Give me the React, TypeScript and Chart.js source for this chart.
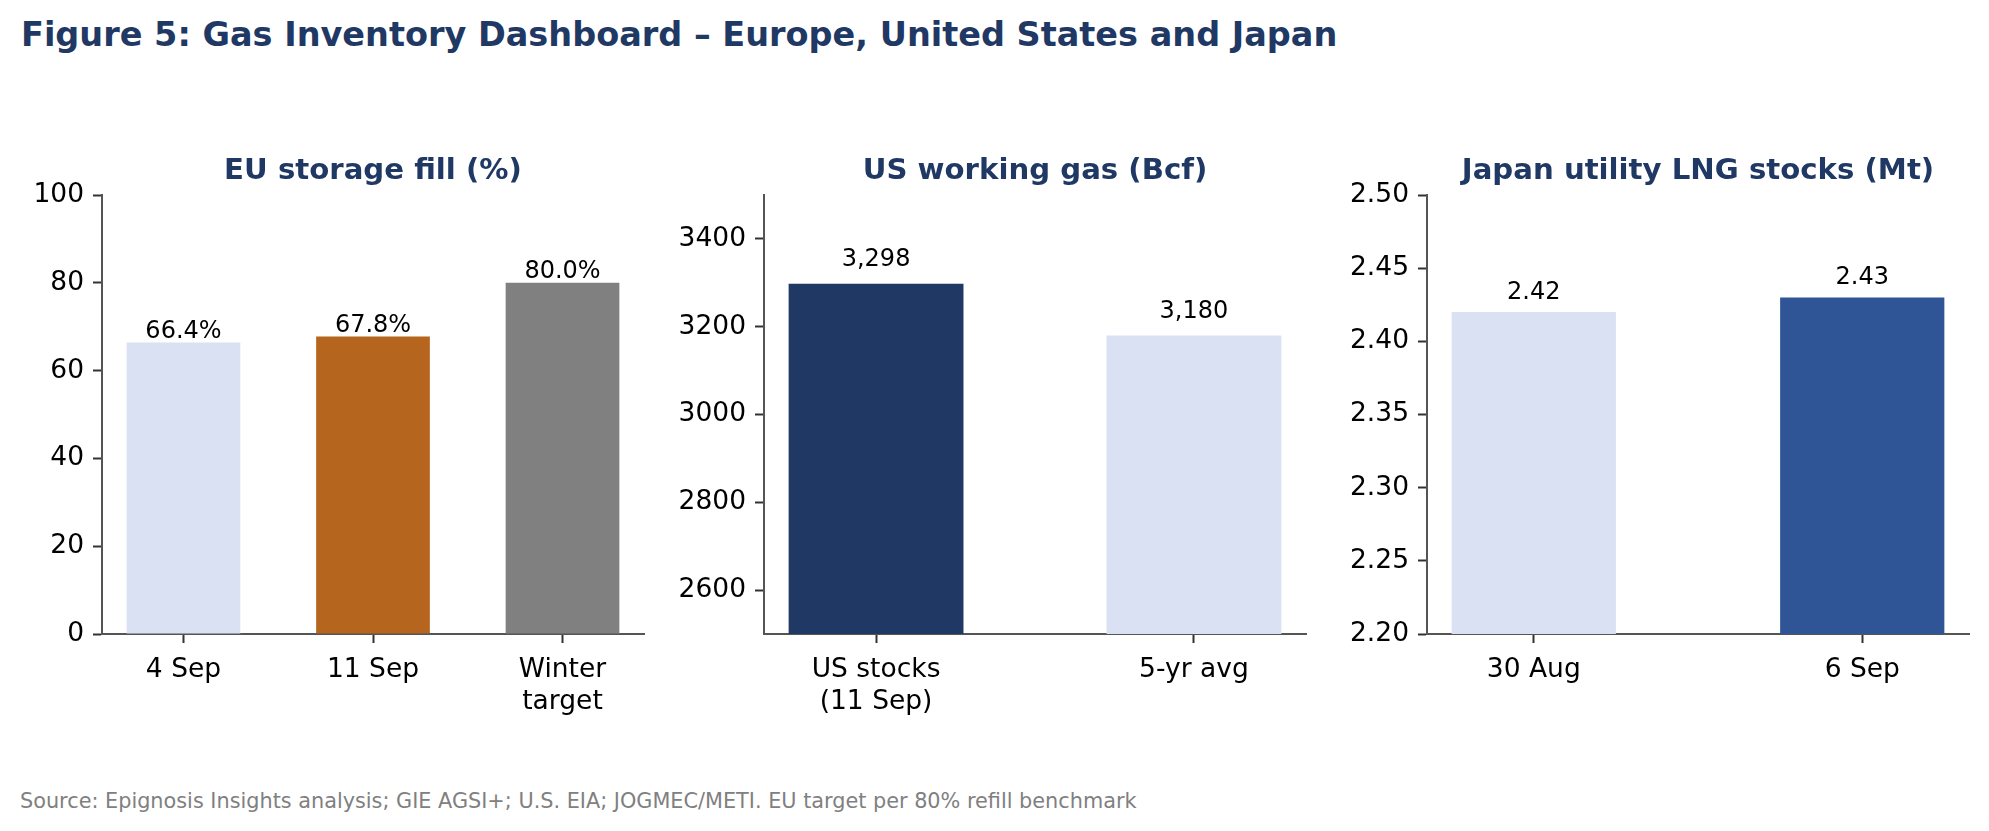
import React, { useEffect, useRef } from "react";
import Chart from "chart.js/auto";

const FONT = "'DejaVu Sans', sans-serif";

// EU storage fill (%)
const euLabels: (string | string[])[] = ["4 Sep", "11 Sep", ["Winter", "target"]];
const euValues = [66.4, 67.8, 80.0];
const euColors = ["#D9E1F2", "#B5651D", "#808080"];
const euTicks = [0, 20, 40, 60, 80, 100];

// US working gas (Bcf)
const usLabels: (string | string[])[] = [["US stocks", "(11 Sep)"], "5-yr avg"];
const usValues = [3298, 3180];
const usColors = ["#203864", "#D9E1F2"];
const usTicks = [2600, 2800, 3000, 3200, 3400];

// Japan utility LNG stocks (Mt)
const jpLabels: (string | string[])[] = ["30 Aug", "6 Sep"];
const jpValues = [2.42, 2.43];
const jpColors = ["#D9E1F2", "#2F5597"];
const jpTicks = [2.2, 2.25, 2.3, 2.35, 2.4, 2.45, 2.5];

const AXIS_W = 100;
const PLOT_W = 542;
const PAD_R = 21;
const CANVAS_TOP = 150;
const CANVAS_H = 600;
const X_AXIS_H = 116;

const barLabels = {
  id: "barLabels",
  afterDatasetsDraw(chart: any, _args: any, opts: any) {
    const { ctx } = chart;
    const meta = chart.getDatasetMeta(0);
    ctx.save();
    ctx.font = `24px ${FONT}`;
    ctx.fillStyle = "#000";
    ctx.textAlign = "center";
    ctx.textBaseline = "alphabetic";
    meta.data.forEach((bar: any, i: number) => {
      ctx.fillText(opts.texts[i], bar.x, bar.y - opts.gap);
    });
    ctx.restore();
  },
};

interface PanelProps {
  left: number;
  title: string;
  labels: (string | string[])[];
  values: number[];
  colors: string[];
  ticks: number[];
  yMin: number;
  yMax: number;
  barWidth: number;
  labelGap: number;
  fmtTick: (v: number) => string;
  fmtValue: (v: number) => string;
}

const Panel: React.FC<PanelProps> = (p) => {
  const canvasRef = useRef<HTMLCanvasElement | null>(null);

  useEffect(() => {
    const canvas = canvasRef.current;
    if (!canvas) return;
    const n = p.values.length;
    const half = p.barWidth / 2;
    const margin = 0.05 * (n - 1 + p.barWidth);
    const tickFont = { family: FONT, size: 26.5 };

    const chart = new Chart(canvas, {
      type: "bar",
      data: {
        datasets: [
          {
            data: p.values.map((v, i) => ({ x: i, y: v })),
            backgroundColor: p.colors,
            borderWidth: 0,
            categoryPercentage: 1,
            barPercentage: p.barWidth,
          },
        ],
      },
      options: {
        responsive: false,
        maintainAspectRatio: false,
        animation: false,
        layout: { padding: { left: 0, right: PAD_R, top: 0, bottom: 0 } },
        plugins: {
          legend: { display: false },
          tooltip: { enabled: false },
          title: {
            display: true,
            text: p.title,
            color: "#1F3864",
            font: { family: FONT, size: 29.2, weight: "bold" },
            padding: { top: 4, bottom: 6 },
            fullSize: false,
          },
          barLabels: { texts: p.values.map(p.fmtValue), gap: p.labelGap },
        } as any,
        scales: {
          x: {
            type: "linear",
            offset: false,
            min: -half - margin,
            max: n - 1 + half + margin,
            afterBuildTicks: (s: any) => {
              s.ticks = p.labels.map((_, i) => ({ value: i }));
            },
            afterFit: (s: any) => {
              s.height = X_AXIS_H;
            },
            ticks: {
              callback: (_v: any, i: number) => p.labels[i],
              font: tickFont,
              color: "#000",
              padding: 11,
              maxRotation: 0,
              autoSkip: false,
            },
            grid: {
              display: true,
              offset: false,
              drawOnChartArea: false,
              drawTicks: true,
              tickLength: 9,
              tickWidth: 2,
              tickColor: "#333",
            },
            border: { display: true, color: "#555", width: 2 },
          },
          y: {
            type: "linear",
            beginAtZero: false,
            min: p.yMin,
            max: p.yMax,
            afterBuildTicks: (s: any) => {
              s.ticks = p.ticks.map((v) => ({ value: v }));
            },
            afterFit: (s: any) => {
              s.width = AXIS_W;
            },
            ticks: {
              callback: (v: any) => p.fmtTick(Number(v)),
              font: tickFont,
              color: "#000",
              padding: 9,
            },
            grid: {
              display: true,
              drawOnChartArea: false,
              drawTicks: true,
              tickLength: 9,
              tickWidth: 2,
              tickColor: "#333",
            },
            border: { display: true, color: "#555", width: 2 },
          },
        },
      } as any,
      plugins: [barLabels],
    });

    return () => {
      chart.destroy();
    };
  }, [p]);

  const w = AXIS_W + PLOT_W + PAD_R;
  return (
    <canvas
      ref={canvasRef}
      width={w}
      height={CANVAS_H}
      style={{ position: "absolute", left: p.left - AXIS_W, top: CANVAS_TOP, width: w, height: CANVAS_H }}
    />
  );
};

const panels: PanelProps[] = [
  {
    left: 102,
    title: "EU storage fill (%)",
    labels: euLabels,
    values: euValues,
    colors: euColors,
    ticks: euTicks,
    yMin: 0,
    yMax: 100,
    barWidth: 0.6,
    labelGap: 4.5,
    fmtTick: (v) => String(v),
    fmtValue: (v) => v.toFixed(1) + "%",
  },
  {
    left: 764,
    title: "US working gas (Bcf)",
    labels: usLabels,
    values: usValues,
    colors: usColors,
    ticks: usTicks,
    yMin: 2500,
    yMax: 3500,
    barWidth: 0.55,
    labelGap: 17.3,
    fmtTick: (v) => String(v),
    fmtValue: (v) => v.toLocaleString("en-US"),
  },
  {
    left: 1427,
    title: "Japan utility LNG stocks (Mt)",
    labels: jpLabels,
    values: jpValues,
    colors: jpColors,
    ticks: jpTicks,
    yMin: 2.2,
    yMax: 2.5,
    barWidth: 0.5,
    labelGap: 13.4,
    fmtTick: (v) => v.toFixed(2),
    fmtValue: (v) => v.toFixed(2),
  },
];

export default function App() {
  return (
    <div
      style={{
        position: "absolute",
        left: 0,
        top: 0,
        width: 1989,
        height: 831,
        background: "#fff",
        fontFamily: FONT,
      }}
    >
      <div
        style={{
          position: "absolute",
          left: 21,
          top: 18,
          fontSize: 33.5,
          lineHeight: 1,
          fontWeight: "bold",
          color: "#1F3864",
          whiteSpace: "nowrap",
        }}
      >
        Figure 5: Gas Inventory Dashboard – Europe, United States and Japan
      </div>
      {panels.map((p) => (
        <Panel key={p.title} {...p} />
      ))}
      <div
        style={{
          position: "absolute",
          left: 20,
          top: 791,
          fontSize: 20.8,
          lineHeight: 1,
          color: "#808080",
          whiteSpace: "nowrap",
        }}
      >
        Source: Epignosis Insights analysis; GIE AGSI+; U.S. EIA; JOGMEC/METI. EU target per 80% refill benchmark
      </div>
    </div>
  );
}
